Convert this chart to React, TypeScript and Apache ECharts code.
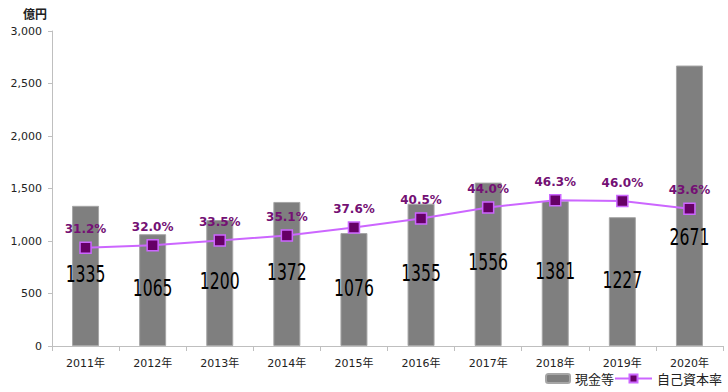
import React, { useEffect, useRef } from "react";
import * as echarts from "echarts";

const categories = ["2011年", "2012年", "2013年", "2014年", "2015年", "2016年", "2017年", "2018年", "2019年", "2020年"];
const cashValues = [1335, 1065, 1200, 1372, 1076, 1355, 1556, 1381, 1227, 2671];
const equityRatio = [31.2, 32.0, 33.5, 35.1, 37.6, 40.5, 44.0, 46.3, 46.0, 43.6];
const yTicks = { min: 0, max: 3000, interval: 500 };
// label distance from the bar bottom (px), as placed in the reference
const barLabelDistance = [60, 46, 53, 62, 46, 61, 72, 63, 54, 97];

export default function App() {
  const ref = useRef<HTMLDivElement>(null);
  useEffect(() => {
    if (!ref.current) return;
    const chart = echarts.init(ref.current, null, { renderer: "svg" });
    const axisFont = { fontFamily: "DejaVu Sans, Noto Sans CJK JP", fontSize: 11, color: "#222" };
    chart.setOption({
      animation: false,
      grid: { left: 52, right: 5, top: 31, bottom: 46 },
      graphic: [
        {
          type: "text",
          left: 23,
          top: 7,
          style: { text: "億円", font: "bold 12px 'Noto Sans CJK JP'", fill: "#222" },
        },
      ],
      legend: [
        {
          data: ["現金等"],
          right: 109,
          bottom: 2,
          itemWidth: 24,
          itemHeight: 9,
          itemGap: 4,
          textStyle: { fontFamily: "Noto Sans CJK JP", fontSize: 13, color: "#222" },
        },
        {
          data: ["自己資本率"],
          right: 1,
          bottom: 2,
          itemWidth: 37,
          itemHeight: 10,
          textStyle: { fontFamily: "Noto Sans CJK JP", fontSize: 13, color: "#222" },
        },
      ],
      xAxis: {
        type: "category",
        data: categories,
        axisLine: { lineStyle: { color: "#bfbfbf", width: 1 } },
        axisTick: { show: true, alignWithLabel: false, length: 5, lineStyle: { color: "#bfbfbf" } },
        axisLabel: { ...axisFont, margin: 12 },
      },
      yAxis: [
        {
          type: "value",
          min: yTicks.min,
          max: yTicks.max,
          interval: yTicks.interval,
          splitLine: { show: false },
          axisLine: { show: true, lineStyle: { color: "#bfbfbf", width: 1 } },
          axisTick: { show: true, length: 4, lineStyle: { color: "#bfbfbf" } },
          axisLabel: {
            ...axisFont,
            margin: 10,
            formatter: (v: number) => v.toLocaleString("en-US"),
          },
        },
        { type: "value", min: 0, max: 100, show: false, splitLine: { show: false } },
      ],
      series: [
        {
          name: "現金等",
          type: "bar",
          barWidth: 27,
          data: cashValues,
          itemStyle: { color: "#7f7f7f", borderColor: "#a6a6a6", borderWidth: 1 },
        },
        {
          type: "custom",
          silent: true,
          z: 5,
          data: cashValues.map((v, i) => [i, v, barLabelDistance[i]]),
          encode: { x: 0, y: 1 },
          renderItem: (params: any, api: any) => {
            const i = api.value(0);
            const base = api.coord([i, 0]);
            return {
              type: "text",
              x: base[0],
              y: base[1] - api.value(2),
              scaleX: 0.68,
              style: {
                text: String(api.value(1)),
                textAlign: "center",
                textVerticalAlign: "bottom",
                font: "23px 'DejaVu Sans'",
                fill: "#000",
              },
            };
          },
        },
        {
          name: "自己資本率",
          type: "line",
          yAxisIndex: 1,
          z: 6,
          data: equityRatio,
          symbol: "rect",
          symbolSize: 11,
          lineStyle: { color: "#cc66ff", width: 2 },
          itemStyle: { color: "#660066", borderColor: "#cc66ff", borderWidth: 1.5 },
          label: {
            show: true,
            position: "top",
            distance: 6,
            formatter: (p: any) => p.value.toFixed(1) + "%",
            fontFamily: "DejaVu Sans",
            fontWeight: "bold",
            fontSize: 12,
            color: "#741074",
          },
        },
      ],
    });
    return () => chart.dispose();
  }, []);
  return <div ref={ref} style={{ width: 728, height: 392, position: "absolute", left: 0, top: 0 }} />;
}
